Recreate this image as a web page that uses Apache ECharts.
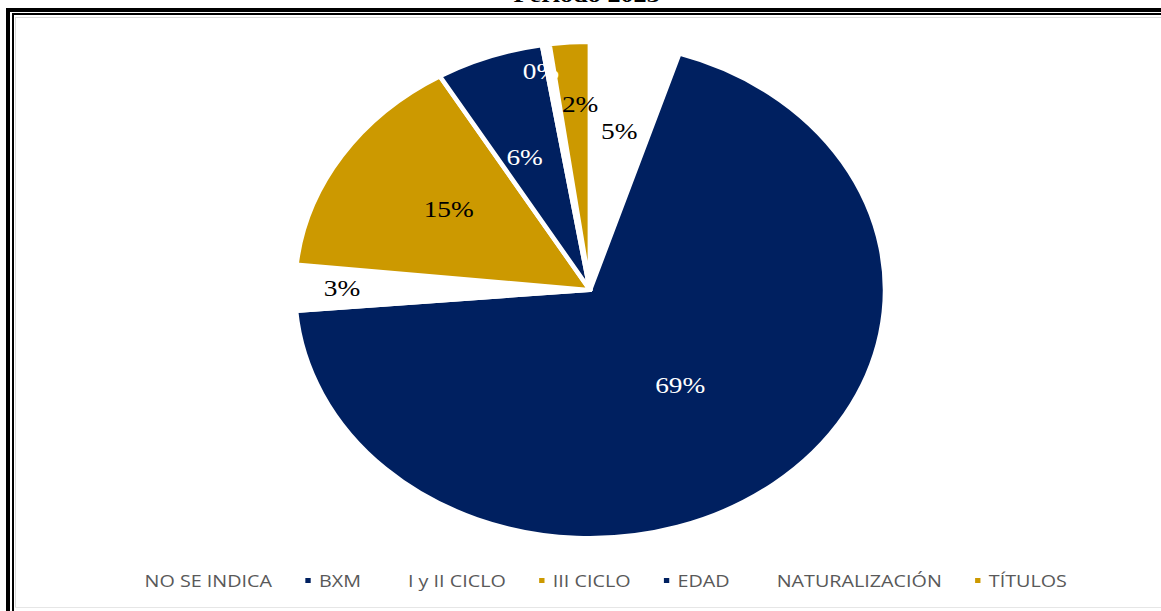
<!DOCTYPE html>
<html>
<head>
<meta charset="utf-8">
<script src="https://cdn.jsdelivr.net/npm/echarts@6/dist/echarts.min.js"></script>
<style>
  html, body { margin: 0; padding: 0; background: #fff; width: 1161px; height: 611px; overflow: hidden; position: relative; }
  #chart { position: absolute; left: 0; top: 0; height: 611px; transform-origin: 0 0; }
  .ln { position: absolute; z-index: 5; }
</style>
</head>
<body>
<div id="chart"></div>
<!-- page frame -->
<div class="ln" style="left:6px;top:8px;width:1155px;height:4px;background:#000"></div>
<div class="ln" style="left:6px;top:8px;width:4px;height:603px;background:#000"></div>
<div class="ln" style="left:12px;top:13px;width:1149px;height:2px;background:#000"></div>
<div class="ln" style="left:12px;top:13px;width:2px;height:598px;background:#000"></div>
<div class="ln" style="left:15px;top:17px;width:1146px;height:1px;background:#d9d9d9"></div>
<div class="ln" style="left:15px;top:17px;width:1px;height:591px;background:#d9d9d9"></div>
<div class="ln" style="left:15px;top:607px;width:1146px;height:1px;background:#e6e6e6"></div>
<script>
// ---- data ----
var categories = ['NO SE INDICA', 'BXM', 'I y II CICLO', 'III CICLO', 'EDAD', 'NATURALIZACIÓN', 'TÍTULOS'];
var values = [4.9, 68.9, 3.0, 14.9, 5.9, 0.4, 2.2];
var titleText = 'Período 2023';

// ---- styles ----
var NAVY = '#002060', GOLD = '#CC9900', WHITE = '#FFFFFF';
var sliceColors = [WHITE, NAVY, WHITE, GOLD, NAVY, WHITE, GOLD];
var labelColors = ['#000', '#fff', '#000', '#000', '#fff', '#fff', '#000'];
var labelDist = [0.65, 0.49, 0.84, 0.58, 0.58, 0.9, 0.75]; // fraction of radius
var labelShift = [0, 0, 0, 1.7, -2.5, -2.0, 1.4];          // degrees, clockwise
var S = 1.19;               // horizontal stretch of the original picture
var W = 1161 / S;
var CX = 590 / S, CY = 290, R = 248;

var el = document.getElementById('chart');
el.style.width = W + 'px';
el.style.transform = 'scaleX(' + S + ')';

var chart = echarts.init(el, null, { renderer: 'svg', width: W, height: 611 });

var pieData = categories.map(function (c, i) {
  return {
    name: c,
    value: values[i],
    itemStyle: { color: sliceColors[i] },
    label: { color: labelColors[i] }
  };
});

chart.setOption({
  backgroundColor: 'transparent',
  animation: false,
  graphic: [{
    type: 'text',
    x: 493, y: 5,
    style: {
      text: titleText,
      font: 'bold 22px "Liberation Serif", "Times New Roman", serif',
      fill: '#000',
      textAlign: 'center',
      textVerticalAlign: 'bottom'
    }
  }],
  legend: {
    data: categories,
    left: 103,
    top: 567,
    orient: 'horizontal',
    itemWidth: 6.5,
    itemHeight: 7,
    itemGap: 26,
    icon: 'rect',
    selectedMode: false,
    textStyle: {
      color: '#595959',
      fontSize: 16.6,
      fontFamily: '"Open Sans", "Noto Sans", sans-serif',
      padding: [0, 0, 0, 1]
    }
  },
  series: [{
    type: 'pie',
    center: [CX, CY],
    radius: [0, R],
    startAngle: 90,
    clockwise: true,
    data: pieData,
    itemStyle: { borderColor: '#fff', borderWidth: 4 },
    emphasis: { disabled: true },
    label: {
      show: true,
      position: 'inside',
      fontFamily: '"Liberation Serif", "Times New Roman", serif',
      fontSize: 23,
      formatter: function (p) { return Math.round(p.percent) + '%'; }
    },
    labelLine: { show: false },
    labelLayout: function (p) {
      var r = p.labelRect;
      var lx = r.x + r.width / 2, ly = r.y + r.height / 2;
      var dx = lx - CX, dy = ly - CY;
      var a = Math.atan2(dx, -dy) + labelShift[p.dataIndex] * Math.PI / 180;
      var d = labelDist[p.dataIndex] * R;
      return { x: CX + d * Math.sin(a), y: CY - d * Math.cos(a), align: 'center', verticalAlign: 'middle' };
    }
  }]
});
</script>
</body>
</html>
